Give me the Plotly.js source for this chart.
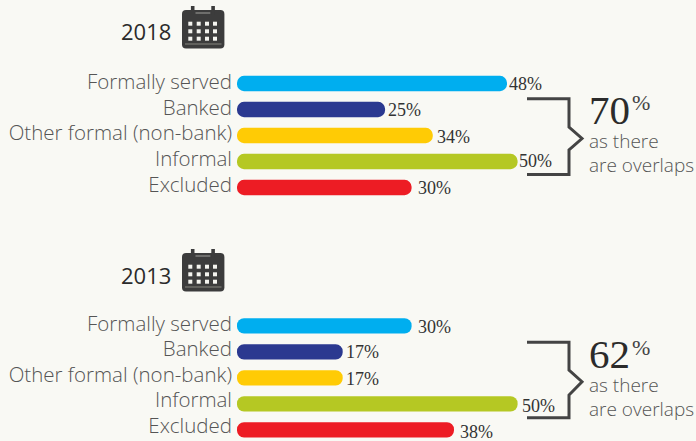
<!DOCTYPE html>
<html>
<head>
<meta charset="utf-8">
<script src="https://cdn.plot.ly/plotly-3.0.1.min.js"></script>
<style>html,body{margin:0;padding:0;background:#f9f9f4;overflow:hidden}</style>
</head>
<body>
<div id="chart" style="width:696px;height:441px"></div>
<script>
const categories = ['Formally served', 'Banked', 'Other formal (non-bank)', 'Informal', 'Excluded'];
const values2018 = [48, 25, 34, 50, 30];
const values2013 = [30, 17, 17, 50, 38];
const barColors = ['#00aeef', '#2b3990', '#ffcb05', '#b5c823', '#ed1c24'];
const labelDx2018 = [2, 3, 4, 1, 6];
const labelDx2013 = [6, 3, 3, 4, 6];
const labelDy2018 = [0, 0, 1, -1, 0];
const labelDy2013 = [1, 0, 1, 2, 2];

const W = 696, H = 441;
const px = v => v / W;
const py = v => 1 - v / H;
const capPad = 2.94;
const TEXT = '#555555', DARK = '#444444';
const SANS = '"Open Sans", sans-serif';
const SERIF = '"Liberation Serif", serif';

function barTrace(values, xa, ya) {
  return {
    type: 'bar', orientation: 'h', xaxis: xa, yaxis: ya,
    y: categories, x: values.map(v => v + capPad), base: -capPad, width: 0.588,
    marker: {color: barColors, cornerradius: 7.6, line: {width: 0}},
    hoverinfo: 'skip', showlegend: false
  };
}
function labelAxisTrace(values, xa, ya) {
  return {type: 'scatter', mode: 'none', xaxis: xa, yaxis: ya, x: values, y: categories,
    hoverinfo: 'skip', showlegend: false};
}
function valueLabels(values, dx, dy, xa, ya) {
  return values.map((v, i) => ({
    x: v, y: categories[i], xref: xa, yref: ya, xanchor: 'left', yanchor: 'middle',
    xshift: dx[i], yshift: -dy[i], showarrow: false, text: v + '%',
    font: {family: SERIF, size: 18, color: '#333333'}, borderpad: 0, borderwidth: 0
  }));
}
function paperText(x, y, text, font, anchor) {
  return {xref: 'paper', yref: 'paper', x: px(x), y: py(y), xanchor: anchor || 'left', yanchor: 'middle',
    text: text, showarrow: false, font: font, borderpad: 0, borderwidth: 0, align: 'left'};
}
function calloutText(top, total) {
  return [
    paperText(589, top + 14, String(total), {family: SERIF, size: 41, color: '#2b2b2b'}),
    paperText(632, top + 7, '%', {family: SERIF, size: 22, color: '#444444'}),
    paperText(589, top + 45, 'as there', {family: SANS, size: 19, weight: 300, color: TEXT}),
    paperText(589, top + 69, 'are overlaps', {family: SANS, size: 19, weight: 300, color: TEXT})
  ];
}
function bracket(t, m1, p, m2, b) {
  return {type: 'path', xref: 'paper', yref: 'paper',
    path: `M${px(527)},${py(t)} L${px(569)},${py(t)} L${px(569)},${py(m1)} L${px(582)},${py(p)} L${px(569)},${py(m2)} L${px(569)},${py(b)} L${px(527)},${py(b)}`,
    line: {color: DARK, width: 3}, fillcolor: 'rgba(0,0,0,0)'};
}
function rect(x0, y0, x1, y1, color) {
  return {type: 'rect', xref: 'paper', yref: 'paper', x0: px(x0), x1: px(x1), y0: py(y0), y1: py(y1),
    fillcolor: color, line: {width: 0}};
}
function calendar(dy) {
  const INK = '#3c3c3c', s = [];
  const r = 4, l = 182, rt = 224.4, t = 10 + dy, b = 48.5 + dy;
  s.push({type: 'path', xref: 'paper', yref: 'paper', fillcolor: INK, line: {width: 0},
    path: `M${px(l + r)},${py(t)} L${px(rt - r)},${py(t)} Q${px(rt)},${py(t)} ${px(rt)},${py(t + r)} L${px(rt)},${py(b - r)} Q${px(rt)},${py(b)} ${px(rt - r)},${py(b)} L${px(l + r)},${py(b)} Q${px(l)},${py(b)} ${px(l)},${py(b - r)} L${px(l)},${py(t + r)} Q${px(l)},${py(t)} ${px(l + r)},${py(t)} Z`});
  [190.9, 211.3].forEach(x => s.push(rect(x, 6 + dy, x + 3.6, 15 + dy, INK)));
  s.push(rect(195.5, 12.4 + dy, 210.3, 13.6 + dy, '#8f8f8c'));
  s.push(rect(185, 43.6 + dy, 221.5, 44.6 + dy, '#85857f'));
  [188.3, 196.7, 205, 213].forEach(x => [21.7, 29.3, 36.7].forEach(y =>
    s.push(rect(x, y + dy, x + 4, y + 4 + dy, '#f4f4ef'))));
  return s;
}

const yAxisBase = {
  type: 'category', categoryorder: 'array', categoryarray: categories, showgrid: false, zeroline: false,
  showline: false, ticks: '', ticklabelstandoff: 4, automargin: false,
  tickfont: {family: SANS, size: 20.5, weight: 300, color: TEXT}
};
const xAxisBase = {visible: false, domain: [px(237), 1], range: [-capPad, 83.66], fixedrange: true};

const data = [
  barTrace(values2018, 'x', 'y'), barTrace(values2013, 'x2', 'y2'),
  labelAxisTrace(values2018, 'x', 'y3'), labelAxisTrace(values2013, 'x2', 'y4')
];
const layout = {
  width: W, height: H, margin: {l: 0, r: 0, t: 0, b: 0},
  paper_bgcolor: '#f9f9f4', plot_bgcolor: 'rgba(0,0,0,0)', showlegend: false,
  xaxis: Object.assign({}, xAxisBase, {anchor: 'y'}),
  xaxis2: Object.assign({}, xAxisBase, {anchor: 'y2'}),
  yaxis: Object.assign({}, yAxisBase, {anchor: 'x', domain: [py(200.5), py(70.5)], range: [4.5, -0.5], showticklabels: false}),
  yaxis2: Object.assign({}, yAxisBase, {anchor: 'x2', domain: [0, py(312.8)], range: [4.431, -0.5], showticklabels: false}),
  yaxis3: Object.assign({}, yAxisBase, {anchor: 'x', domain: [py(197.2), py(69.2)], range: [4.5, -0.5]}),
  yaxis4: Object.assign({}, yAxisBase, {anchor: 'x2', domain: [py(438.5), py(311)], range: [4.5, -0.5]}),
  annotations: [
    paperText(171, 31, '2018', {family: SANS, size: 22, weight: 400, color: '#2b2b2b'}, 'right'),
    paperText(171, 275, '2013', {family: SANS, size: 22, weight: 400, color: '#2b2b2b'}, 'right')
  ].concat(
    valueLabels(values2018, labelDx2018, labelDy2018, 'x', 'y'),
    valueLabels(values2013, labelDx2013, labelDy2013, 'x2', 'y2'),
    calloutText(96, 70), calloutText(340, 62)
  ),
  shapes: [
    bracket(98.7, 127, 138.5, 150, 174.5),
    bracket(342.3, 370, 381.7, 395, 417.7)
  ].concat(calendar(0), calendar(243))
};
Plotly.newPlot('chart', data, layout, {staticPlot: true, displayModeBar: false});
</script>
</body>
</html>
